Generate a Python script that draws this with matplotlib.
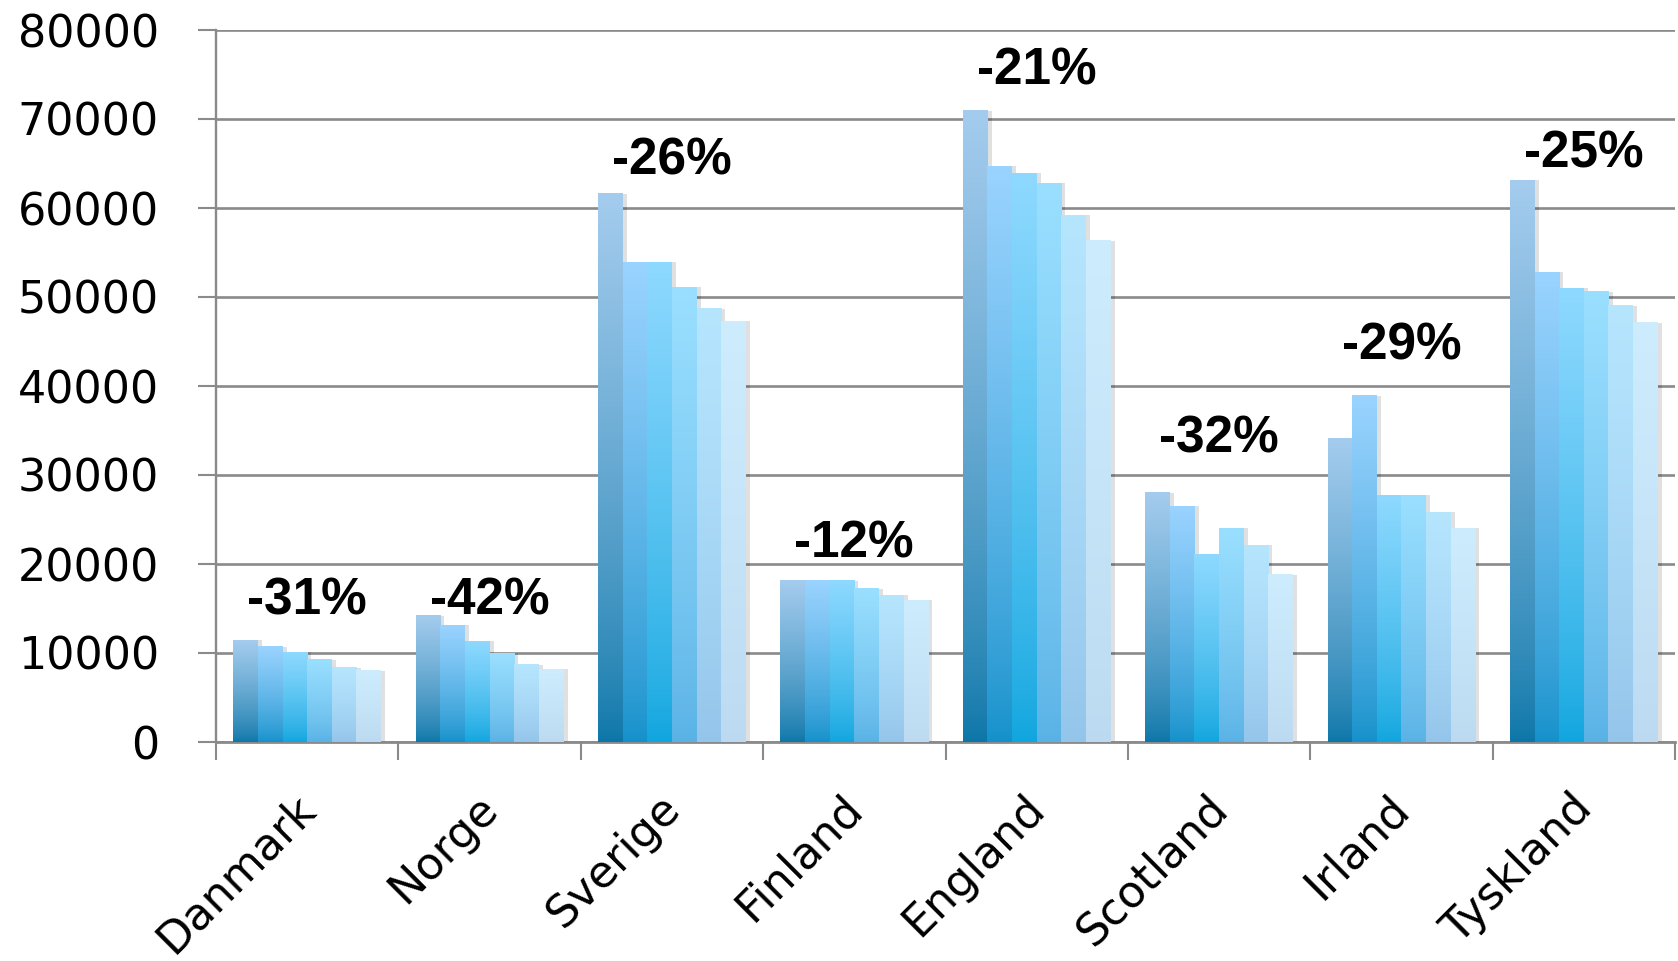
import numpy as np
import matplotlib
matplotlib.use('Agg')
from matplotlib import pyplot as plt
from matplotlib import colors as mcolors
from matplotlib import patheffects

countries = ['Danmark', 'Norge', 'Sverige', 'Finland', 'England', 'Scotland', 'Irland', 'Tyskland']
changes = ['-31%', '-42%', '-26%', '-12%', '-21%', '-32%', '-29%', '-25%']

# six years per country
year1 = [11450, 14200, 61600, 18200, 70900, 28000, 34100, 63100]
year2 = [10700, 13100, 53900, 18200, 64700, 26500, 38900, 52800]
year3 = [10100, 11300, 53900, 18100, 63900, 21100, 27700, 51000]
year4 = [9250, 9950, 51100, 17200, 62800, 24000, 27700, 50600]
year5 = [8350, 8700, 48700, 16500, 59200, 22100, 25800, 49000]
year6 = [8000, 8150, 47300, 15900, 56300, 18800, 24000, 47100]
years = [year1, year2, year3, year4, year5, year6]

yticks = [0, 10000, 20000, 30000, 40000, 50000, 60000, 70000, 80000]

# where the percentage text sits (baseline, data units)
label_y = [14350, 14350, 63800, 20700, 73900, 32500, 43000, 64600]

# gradient per series: (bottom, top)
grad_colors = [('#0c76a8', '#a4ccee'),
               ('#1490ca', '#9ad3ff'),
               ('#0fa5de', '#8ed9ff'),
               ('#58b1e5', '#9adfff'),
               ('#93c4ea', '#b6e6fe'),
               ('#bbd9f0', '#cdecfd')]

W, H = 1678, 961
fig = plt.figure(figsize=(W / 100, H / 100), dpi=100)
ax = fig.add_axes([216 / W, 1 - 742 / H, (1675 - 216) / W, (742 - 30) / H])

grid_col = '#8a8a8a'
n_series = len(years)
group_w = 0.81
bar_w = group_w / n_series
x = np.arange(len(countries)) + 0.5

def gradient(c0, c1, n=256):
    a = np.array(mcolors.to_rgb(c0))
    b = np.array(mcolors.to_rgb(c1))
    t = np.linspace(0, 1, n) ** 0.75
    return (a[None, :] * (1 - t[:, None]) + b[None, :] * t[:, None])[:, None, :]

for i, vals in enumerate(years):
    xs = x - group_w / 2 + i * bar_w
    bars = ax.bar(xs, vals, width=bar_w, align='edge', color='white', zorder=2,
                  linewidth=0)
    for b in bars:
        b.set_path_effects([patheffects.SimplePatchShadow(offset=(3, 0), shadow_rgbFace='#000000',
                                                          alpha=0.12)])
        g = gradient(*grad_colors[i])
        ax.imshow(g, extent=[b.get_x(), b.get_x() + b.get_width(), 0, b.get_height()],
                  origin='lower', aspect='auto', interpolation='bilinear', zorder=3)

for xi, txt, ly in zip(x, changes, label_y):
    ax.text(xi, ly, txt, ha='center', va='baseline', fontsize=37, fontweight='bold',
            family='Liberation Sans', color='black', zorder=5)

ax.set_xlim(0, len(countries))
ax.set_ylim(0, 80000)
ax.set_yticks(yticks)
ax.set_yticklabels([str(v) for v in yticks], fontsize=32, family='DejaVu Sans')
ax.yaxis.grid(True, color=grid_col, linewidth=1.9, zorder=0)
ax.set_axisbelow(True)

ax.set_xticks(np.arange(len(countries) + 1))
ax.set_xticklabels([])
# labels sit a little right of the group centre, as in the original
ax.set_xticks(x + 0.09, minor=True)
ax.set_xticklabels(countries, minor=True, rotation=45, ha='right', va='top',
                   fontsize=32, family='DejaVu Sans')

ax.tick_params(axis='x', which='major', length=13, width=1.5, color=grid_col, direction='out')
ax.tick_params(axis='x', which='minor', length=0, pad=32)
ax.tick_params(axis='y', length=13, width=1.5, color=grid_col, direction='out', pad=28)

for s in ['top', 'right']:
    ax.spines[s].set_visible(False)
ax.spines['left'].set_color(grid_col)
ax.spines['left'].set_linewidth(1.7)
ax.spines['bottom'].set_color(grid_col)
ax.spines['bottom'].set_linewidth(2)

fig.savefig('out.png', dpi=100)
